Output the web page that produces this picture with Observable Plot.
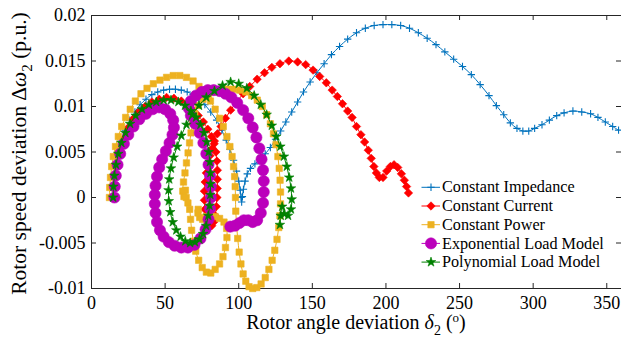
<!DOCTYPE html>
<html><head><meta charset="utf-8">
<script src="https://cdn.jsdelivr.net/npm/d3@7"></script>
<script src="https://cdn.jsdelivr.net/npm/@observablehq/plot@0.6"></script>
<style>
body{margin:0;background:#fff;}
#wrap{position:relative;width:621px;height:341px;overflow:hidden;}
</style></head><body><div id="wrap"></div>
<script>
const seriesNames = ["Constant Impedance","Constant Current","Constant Power","Exponential Load Model","Polynomial Load Model"];
const seriesColors = ["#0072BD","#FF0000","#EDB120","#BB00BB","#008000"];
const seriesSymbols = ["plus","diamond2","square","circle","star"];

const impDelta = [15,15.3,16,17,18.5,20.5,23,26,29.5,33,37,41,45,49,53,57,61,65,69,73,77,81,85,88.5,91.5,94,96.5,98.5,100,101,101.6,102,102.5,103.2,104.3,105.8,108,111,114.5,118,121.5,125,128.5,132,136,140,144,148.5,153,158,163,168.5,174,180,186,192,198,204,210,216,222,228,234,240,246,252,258,264,270,275,280,284.5,289,293,297,301,306,311,316,321,327,333,339,344,349,354,358];
const impOmega = [0,0.0012,0.0025,0.0038,0.005,0.0062,0.0074,0.0085,0.0094,0.0102,0.0108,0.0113,0.0116,0.0118,0.0119,0.0119,0.0118,0.0116,0.0113,0.0109,0.0102,0.0094,0.0085,0.0074,0.0063,0.0053,0.0041,0.0029,0.0018,0.0008,0,-0.0005,0.0001,0.0009,0.0018,0.0026,0.0032,0.0037,0.0042,0.0048,0.0055,0.0064,0.0073,0.0083,0.0094,0.0105,0.0116,0.0127,0.0137,0.0147,0.0157,0.0166,0.0174,0.0181,0.0186,0.0189,0.019,0.019,0.0189,0.0186,0.0181,0.0175,0.0168,0.016,0.0152,0.0144,0.0135,0.0124,0.0112,0.0101,0.0091,0.0082,0.0076,0.0073,0.0073,0.0076,0.008,0.0085,0.009,0.0093,0.0095,0.0094,0.0092,0.0088,0.0083,0.0078,0.0074];

const curDelta = [15,15.3,16,17.2,19,21.5,24.5,28,32,36.5,41,46,51,56,61,65,69,72.5,76,79,81.5,83.3,84.5,85.2,85.5,85.5,85.4,85.2,84.8,84,83,81.7,80.3,79,77.8,77,76.7,76.7,77.2,78,79.2,80.5,82,83.5,85.5,88,91,94.5,98.5,103,107.5,112.5,117.5,122.5,128,134,140,145.5,150.5,155,159.5,163.5,167,170.5,174,177,180,183,185.5,188,190,191.8,193.5,195.5,198,200.5,203,205.5,208,210.5,212.5,214,215.3];
const curOmega = [0,0.0012,0.0025,0.0038,0.0051,0.0064,0.0076,0.0086,0.0094,0.01,0.0105,0.0108,0.011,0.0109,0.0106,0.0102,0.0096,0.009,0.0083,0.0075,0.0067,0.0059,0.005,0.004,0.003,0.002,0.001,0,-0.001,-0.002,-0.0027,-0.0031,-0.0032,-0.0029,-0.0022,-0.0013,-0.0003,0.0007,0.0017,0.0027,0.0037,0.0046,0.0054,0.0062,0.007,0.0078,0.0087,0.0096,0.0105,0.0114,0.0122,0.013,0.0137,0.0143,0.0147,0.015,0.0149,0.0146,0.014,0.0133,0.0126,0.0118,0.0111,0.0103,0.0095,0.0088,0.0078,0.0069,0.0061,0.0052,0.0043,0.0034,0.0027,0.0022,0.0022,0.0029,0.0034,0.0036,0.0033,0.0026,0.0019,0.0012,0.0005];

const powDelta = [12.2,12.4,12.9,13.7,14.8,16.3,18.2,20.5,23.2,26.3,29.8,33.6,37.7,42,46.5,51,55.5,60,64.5,69,73,77,80.8,84,87,89.5,92,94,95.5,96.5,97.2,97.6,97.8,98,98.5,99.3,100.3,101.5,103,104.8,107,109.5,112.3,115.2,118,120.5,122.7,124.5,126,127.2,128,128.4,128.4,128.1,127.5,126.6,125.3,123.6,121.5,119,116,112.6,108.8,104.8,100.6,96.3,92,87.7,83.5,79.5,75.7,72.5,70.2,68.7,67.6,66.6,65.6,64.5,63.5,62.5,62,62.8,63.8,64.3,65.5,66.7,67.3,68,69.2,70.8,72.8,75.2,78,81,84,87,89.3,91,92,91.8,90,87,84,81,78,75.5,73.5,72.3,72.5];
const powOmega = [0,0.0011,0.0022,0.0034,0.0045,0.0056,0.0067,0.0078,0.0088,0.0097,0.0106,0.0114,0.012,0.0125,0.0129,0.0132,0.0134,0.0134,0.0132,0.0128,0.0122,0.0114,0.0106,0.0097,0.0087,0.0078,0.0067,0.0056,0.0045,0.0034,0.0023,0.0012,0,-0.0015,-0.003,-0.0045,-0.006,-0.0073,-0.0084,-0.0092,-0.0098,-0.01,-0.0099,-0.0095,-0.0088,-0.0079,-0.0069,-0.0058,-0.0046,-0.0033,-0.002,-0.0007,0.0006,0.0019,0.0032,0.0045,0.0058,0.007,0.0081,0.0091,0.01,0.0107,0.0112,0.0116,0.0118,0.0119,0.0119,0.0118,0.0116,0.0113,0.0108,0.0101,0.0092,0.0082,0.0071,0.006,0.0049,0.0038,0.0027,0.0017,0.0007,0.0001,0.0008,0,-0.0006,-0.0013,-0.0024,-0.0036,-0.0048,-0.0059,-0.0069,-0.0077,-0.0082,-0.0083,-0.0079,-0.0073,-0.0065,-0.0055,-0.0044,-0.0034,-0.0027,-0.0023,-0.0021,-0.002,-0.0021,-0.0024,-0.0022,-0.0017,-0.0013];

const expDelta = [15.6,15.8,16.5,17.7,19.5,22,25,28.5,32.5,37,41.5,46,50,53.5,55.5,56,55,53,50.5,48,46,44.5,43.5,43,43,43.5,44.5,46.5,49,52.5,56.5,61,65.5,70,74,77.5,79.5,80.5,81,81,80.5,79.5,78,76,73.5,70.5,67.5,66,67.5,71,75,79,83,87,91,95,99,103,106.5,109.5,112,114,115.5,116.5,117,117,116.5,115,112.5,109.5,106.5,103.5,100.5,97.5,94.3];
const expOmega = [0,0.0012,0.0024,0.0036,0.0048,0.0059,0.0069,0.0078,0.0086,0.0092,0.0097,0.0099,0.0097,0.0092,0.0085,0.0077,0.0069,0.006,0.0051,0.0042,0.0033,0.0023,0.0013,0.0003,-0.0007,-0.0017,-0.0027,-0.0036,-0.0043,-0.0049,-0.0053,-0.0055,-0.0055,-0.0052,-0.0045,-0.0035,-0.0024,-0.0012,0,0.0012,0.0024,0.0036,0.0048,0.006,0.0071,0.0081,0.009,0.0098,0.0106,0.0112,0.0116,0.0118,0.0118,0.0117,0.0114,0.011,0.0104,0.0096,0.0087,0.0077,0.0066,0.0054,0.0042,0.003,0.0018,0.0006,-0.0006,-0.0017,-0.0025,-0.0027,-0.0025,-0.0025,-0.0028,-0.0031,-0.0032];

const polDelta = [14.7,14.9,15.5,16.6,18.2,20.3,23,26.2,30,34.3,39,44,49,54,59,63.5,67.5,71,74,76.5,78.3,79.6,80.4,80.8,80.9,80.7,80.2,79.3,77.8,75.8,73.3,70.3,67,63.7,60.5,57.6,55.2,53.5,52.5,52.3,52.8,54,55.8,58.2,61,64.5,68.5,73,78,83.5,89,94.5,100,105.5,110.5,115,119,122.5,125.5,128.3,130.7,132.7,134.3,135.5,136,135.5,133.5,131,129.5,128.5,128];
const polOmega = [0,0.0012,0.0024,0.0036,0.0048,0.006,0.0071,0.0081,0.009,0.0097,0.0102,0.0105,0.0107,0.0107,0.0105,0.0101,0.0095,0.0088,0.008,0.0071,0.0061,0.005,0.0039,0.0027,0.0015,0.0003,-0.0009,-0.002,-0.0031,-0.004,-0.0046,-0.0049,-0.005,-0.0048,-0.0043,-0.0036,-0.0027,-0.0016,-0.0004,0.0008,0.002,0.0032,0.0044,0.0056,0.0068,0.008,0.0091,0.0101,0.011,0.0117,0.0123,0.0127,0.0125,0.012,0.0112,0.0102,0.0091,0.0079,0.0067,0.0056,0.0045,0.0034,0.0022,0.001,-0.0002,-0.0013,-0.002,-0.0018,-0.001,-0.002,-0.003];

const xTicks = [0,50,100,150,200,250,300,350];
const yTicks = [-0.01,-0.005,0,0.005,0.01,0.015,0.02];
const yTickLabels = ["-0.01","-0.005","0","0.005","0.01","0.015","0.02"];

const deltas = [impDelta,curDelta,powDelta,expDelta,polDelta];
const omegas = [impOmega,curOmega,powOmega,expOmega,polOmega];
const sizes = [2.5,3.8,3.6,5.6,3.0];

const W = 621, H = 341, mL = 91, mR = 0, mT = 15, mB = 53;
const innerW = W - mL - mR, innerH = H - mT - mB;

const marks = [];
seriesNames.forEach((name, k) => {
  const rows = deltas[k].map((d, i) => ({x: d, y: omegas[k][i]}));
  marks.push(Plot.line(rows, {x: "x", y: "y", stroke: seriesColors[k], strokeWidth: 1, curve: "catmull-rom"}));
  const isStroke = seriesSymbols[k] === "plus";
  marks.push(Plot.dot(rows, {x: "x", y: "y", symbol: () => seriesSymbols[k], r: sizes[k],
    fill: isStroke ? "none" : seriesColors[k], stroke: seriesColors[k], strokeWidth: isStroke ? 1.1 : 0.6}));
});

const chart = Plot.plot({
  width: W, height: H,
  marginLeft: mL, marginRight: mR, marginTop: mT, marginBottom: mB,
  style: {fontFamily: "'Liberation Serif','Times New Roman',serif", fontSize: "18px", color: "#000", background: "#fff", overflow: "visible"},
  x: {domain: [0, 360]},
  y: {domain: [-0.01, 0.02]},
  symbol: {type: "identity"},
  marks: [
    Plot.ruleY([-0.01, 0.02], {stroke: "#262626", strokeWidth: 1}),
    Plot.ruleX([0], {stroke: "#262626", strokeWidth: 1}),
    Plot.tickX(xTicks, {x: d => d, insetTop: innerH - 5, stroke: "#262626"}),
    Plot.tickX(xTicks, {x: d => d, insetBottom: innerH - 5, stroke: "#262626"}),
    Plot.tickY(yTicks, {y: d => d, insetRight: innerW - 5, stroke: "#262626"}),
    Plot.tickY(yTicks, {y: d => d, insetLeft: innerW - 5, stroke: "#262626"}),
    Plot.axisX(xTicks, {tickSize: 0, tickPadding: 8, fontSize: 18, label: null}),
    Plot.axisY(yTicks, {tickSize: 0, tickPadding: 6, fontSize: 18, label: null, tickFormat: (d, i) => yTickLabels[i]}),
    ...marks
  ]
});
document.getElementById("wrap").appendChild(chart);

const svg = d3.select(chart);
const ff = "'Liberation Serif','Times New Roman',serif";
// x label
const xl = svg.append("text").attr("x", 356).attr("y", 329).attr("text-anchor", "middle")
  .attr("font-family", ff).attr("font-size", 20).attr("fill", "#000");
xl.append("tspan").text("Rotor angle deviation ");
xl.append("tspan").attr("font-style", "italic").text("δ");
xl.append("tspan").attr("font-size", 14).attr("dy", 6).text("2");
xl.append("tspan").attr("dy", -6).text(" (");
xl.append("tspan").attr("font-size", 13).attr("dy", -7).text("o");
xl.append("tspan").attr("dy", 7).text(")");
// y label
const yl = svg.append("text").attr("transform", "translate(26,153.5) rotate(-90)").attr("text-anchor", "middle")
  .attr("font-family", ff).attr("font-size", 21.5).attr("fill", "#000");
yl.append("tspan").text("Rotor speed deviation Δ");
yl.append("tspan").attr("font-style", "italic").text("ω");
yl.append("tspan").attr("font-size", 15).attr("dy", 6).text("2");
yl.append("tspan").attr("dy", -6).text(" (p.u.)");

// legend
const legY0 = 187.3, legDy = 18.7;
const symMap = {plus: d3.symbolPlus, diamond2: d3.symbolDiamond2, square: d3.symbolSquare, circle: d3.symbolCircle, star: d3.symbolStar};
seriesNames.forEach((name, k) => {
  const g = svg.append("g").attr("transform", `translate(0,${legY0 + k * legDy})`);
  g.append("line").attr("x1", 421.5).attr("x2", 440).attr("y1", 0).attr("y2", 0).attr("stroke", seriesColors[k]).attr("stroke-width", 1);
  const r = sizes[k];
  const isStroke = seriesSymbols[k] === "plus";
  g.append("path").attr("transform", "translate(431,0)").attr("d", d3.symbol(symMap[seriesSymbols[k]], Math.PI * r * r)())
    .attr("fill", isStroke ? "none" : seriesColors[k]).attr("stroke", seriesColors[k]).attr("stroke-width", isStroke ? 1.1 : 0.6);
  g.append("text").attr("x", 442).attr("y", 0).attr("dy", "0.32em").attr("text-anchor", "start")
    .attr("font-family", ff).attr("font-size", 16.2).attr("fill", "#000").text(name);
});
</script></body></html>
